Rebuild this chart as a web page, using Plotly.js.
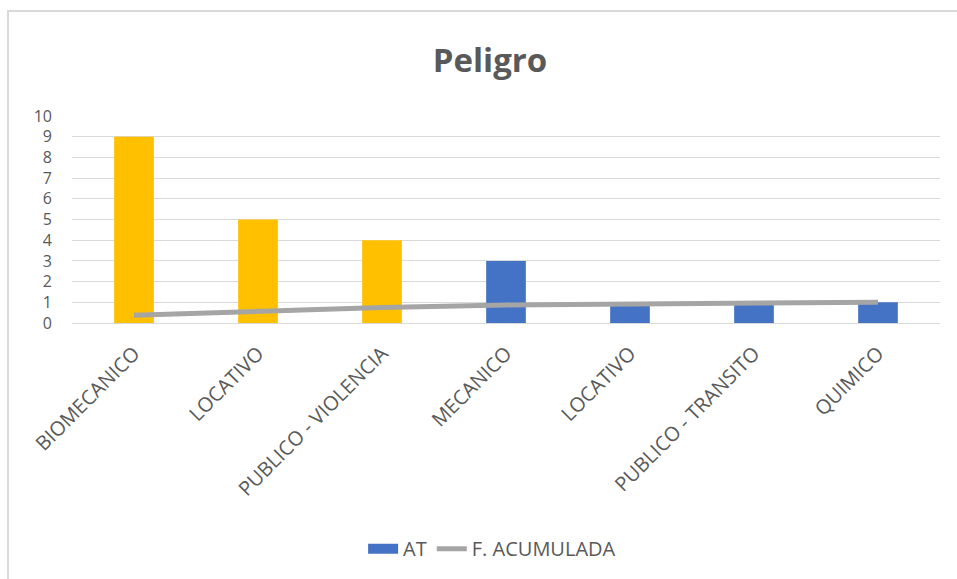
<!DOCTYPE html>
<html>
<head>
<meta charset="utf-8">
<script src="https://cdn.plot.ly/plotly-3.0.1.min.js"></script>
<style>
  html, body { margin: 0; padding: 0; background: #ffffff; }
  #wrap { position: relative; width: 957px; height: 579px; overflow: hidden; }
  #frame { position: absolute; left: 7px; top: 10px; width: 960px; height: 580px;
           border-left: 2px solid #d9d9d9; border-top: 2px solid #d9d9d9; pointer-events: none; }
  #chart { position: absolute; left: 0; top: 0; width: 957px; height: 579px; }
</style>
</head>
<body>
<div id="wrap">
  <div id="chart"></div>
  <div id="frame"></div>
</div>
<script>
const categories = ["BIOMECANICO", "LOCATIVO", "PUBLICO - VIOLENCIA", "MECANICO", "LOCATIVO", "PUBLICO - TRANSITO", "QUIMICO"];
const atValues = [9, 5, 4, 3, 1, 1, 1];
const fAcumulada = [0.375, 0.583, 0.75, 0.875, 0.917, 0.958, 1.0];
const yTickLabels = ["0", "1", "2", "3", "4", "5", "6", "7", "8", "9", "10"];
const barColors = ["#FFC000", "#FFC000", "#FFC000", "#4472C4", "#4472C4", "#4472C4", "#4472C4"];

const positions = categories.map((_, i) => i);
const font = "Open Sans, Noto Sans, sans-serif";

const traces = [
  {
    type: "bar",
    name: "AT",
    x: positions,
    y: atValues,
    marker: { color: barColors },
    legendgroup: "at",
    showlegend: false
  },
  {
    // legend entry for AT (wide blue key, as in the reference)
    type: "scatter",
    mode: "lines",
    name: "AT",
    x: [null],
    y: [null],
    legendgroup: "at",
    line: { color: "#4472C4", width: 12 },
    showlegend: true
  },
  {
    type: "scatter",
    mode: "lines",
    name: "F. ACUMULADA",
    x: positions,
    y: fAcumulada,
    line: { color: "#A5A5A5", width: 5 }
  }
];

const layout = {
  width: 957,
  height: 579,
  margin: { l: 72, r: 17, t: 116, b: 255 },
  paper_bgcolor: "#ffffff",
  plot_bgcolor: "#ffffff",
  font: { family: font, color: "#595959" },
  title: {
    text: "<b>Peligro</b>",
    font: { family: font, size: 33, color: "#595959" },
    x: 0.512, xanchor: "center",
    y: 0.895, yanchor: "middle"
  },
  barmode: "overlay",
  bargap: 0.68,
  xaxis: {
    range: [-0.5, 6.5],
    tickmode: "array",
    tickvals: positions,
    ticktext: categories,
    tickangle: -45,
    tickfont: { family: font, size: 20, color: "#595959" },
    ticklabelstandoff: 10,
    showgrid: false,
    showline: true,
    linecolor: "#d9d9d9",
    linewidth: 1,
    ticks: "",
    zeroline: false,
    fixedrange: true
  },
  yaxis: {
    range: [0, 10],
    tickmode: "array",
    tickvals: yTickLabels.map(Number),
    ticktext: yTickLabels,
    tickfont: { family: font, size: 16, color: "#595959" },
    showgrid: true,
    gridcolor: "#d9d9d9",
    gridwidth: 1,
    zeroline: false,
    showline: false,
    ticks: "",
    ticklabelstandoff: 19,
    fixedrange: true
  },
  legend: {
    orientation: "h",
    x: 0.484, xanchor: "center",
    y: -1.08, yanchor: "middle",
    font: { family: font, size: 20, color: "#595959" },
    traceorder: "normal"
  },
  showlegend: true
};

Plotly.newPlot("chart", traces, layout, { displayModeBar: false, staticPlot: true });
</script>
</body>
</html>
